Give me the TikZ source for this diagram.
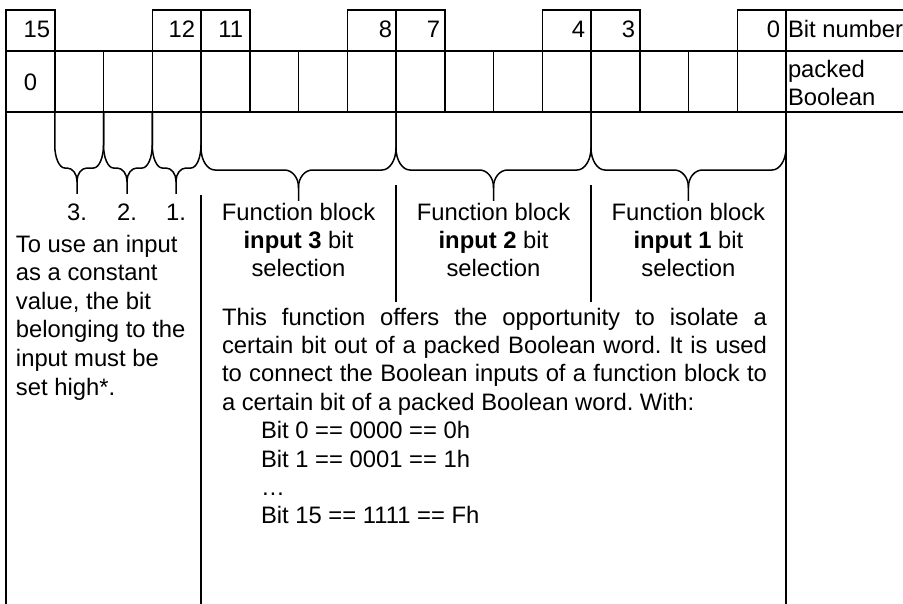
\documentclass[tikz,border=0pt]{standalone}
\usepackage{fontspec}
\setmainfont{Liberation Sans}
\frenchspacing
\newcommand{\fsz}{\fontsize{23.8}{28.4}\selectfont}
% brace: #1 left x, #2 tip x, #3 right x, #4 end of vertical, #5 horizontal y, #6 corner radius, #7 tip curve end y, #8 tip bottom y
\newcommand{\brc}[8]{%
  \draw[ln] (#1,112) -- (#1,#4) .. controls (#1,{#4+0.55*(#5-#4)}) and ({#1+0.45*#6},#5) .. ({#1+#6},#5)
     -- ({#2-#6},#5) .. controls ({#2-0.45*#6},#5) and (#2,{#7-0.55*(#7-#5)}) .. (#2,#7) -- (#2,#8);
  \draw[ln] (#3,112) -- (#3,#4) .. controls (#3,{#4+0.55*(#5-#4)}) and ({#3-0.45*#6},#5) .. ({#3-#6},#5)
     -- ({#2+#6},#5) .. controls ({#2+0.45*#6},#5) and (#2,{#7-0.55*(#7-#5)}) .. (#2,#7);
}
\begin{document}
\begin{tikzpicture}[x=1pt,y=-1pt,
  ln/.style={line width=1.5pt,line cap=rect,black},
  lbl/.style={inner sep=0pt,outer sep=0pt,font=\fsz,text=black}]
\fill[white] (0,0) rectangle (903,603);
\useasboundingbox (0,0) rectangle (903,603);
% header top segments
\draw[ln] (6,10) -- (54.75,10);
\draw[ln] (152.25,10) -- (249.75,10);
\draw[ln] (347.25,10) -- (444.75,10);
\draw[ln] (542.25,10) -- (639.75,10);
\draw[ln] (737.25,10) -- (903,10);
% horizontal rules
\draw[ln] (6,51) -- (903,51);
\draw[ln] (6,112) -- (903,112);
% header verticals
\foreach \i in {1,3,4,5,7,8,9,11,12,13,15}
  \draw[ln] ({6+48.75*\i},10) -- ({6+48.75*\i},51);
% data row verticals
\foreach \i in {1,...,15}
  \draw[ln] ({6+48.75*\i},51) -- ({6+48.75*\i},112);
% full-height outer lines
\draw[ln] (6,10) -- (6,603);
\draw[ln] (786,10) -- (786,603);
% lower separators
\draw[ln] (201,196) -- (201,603);
\draw[ln] (396,186) -- (396,301);
\draw[ln] (591,186) -- (591,301);
% braces
\brc{54.75}{77}{103.5}{145}{168}{10}{181}{193}
\brc{103.5}{127}{152.25}{145}{168}{10}{181}{193}
\brc{152.25}{176}{201}{145}{168}{10}{181}{193}
\brc{201}{298.5}{396}{148}{170}{14}{187}{200}
\brc{396}{493.5}{591}{148}{170}{14}{187}{200}
\brc{591}{688.4}{786}{148}{170}{14}{187}{200}
% header labels
\node[lbl,anchor=base east] (h15) at (50,37) {15};
\node[lbl,anchor=base east] (h12) at (195,37) {12};
\node[lbl,anchor=base east] (h11) at (243,37) {11};
\node[lbl,anchor=base east] (h8) at (392,37) {8};
\node[lbl,anchor=base east] (h7) at (440,37) {7};
\node[lbl,anchor=base east] (h4) at (585,37) {4};
\node[lbl,anchor=base east] (h3) at (635,37) {3};
\node[lbl,anchor=base east] (h0) at (780,37) {0};
\node[lbl,anchor=base west] (hbit) at (788,37) {Bit number};
\node[lbl,anchor=base] (v0) at (30.4,90) {0};
\node[lbl,anchor=base west] (pk1) at (788,77) {packed};
\node[lbl,anchor=base west] (pk2) at (788,105) {Boolean};
% input numbers
\node[lbl,anchor=base] (n3) at (77,220) {3.};
\node[lbl,anchor=base] (n2) at (127,220) {2.};
\node[lbl,anchor=base] (n1) at (176,220) {1.};
% constant note
\node[lbl,anchor=base west] (c1) at (16,252) {To use an input};
\node[lbl,anchor=base west] (c2) at (16,280.6) {as a constant};
\node[lbl,anchor=base west] (c3) at (16,309.2) {value, the bit};
\node[lbl,anchor=base west] (c4) at (16,337.8) {belonging to the};
\node[lbl,anchor=base west] (c5) at (16,366.4) {input must be};
\node[lbl,anchor=base west] (c6) at (16,395) {set high*.};
% function block labels
\node[lbl,anchor=base] (f3a) at (298.5,220) {Function block};
\node[lbl,anchor=base] (f3b) at (298.5,248.4) {\textbf{input 3} bit};
\node[lbl,anchor=base] (f3c) at (298.5,276.8) {selection};
\node[lbl,anchor=base] (f2a) at (493.5,220) {Function block};
\node[lbl,anchor=base] (f2b) at (493.5,248.4) {\textbf{input 2} bit};
\node[lbl,anchor=base] (f2c) at (493.5,276.8) {selection};
\node[lbl,anchor=base] (f1a) at (688.4,220) {Function block};
\node[lbl,anchor=base] (f1b) at (688.4,248.4) {\textbf{input 1} bit};
\node[lbl,anchor=base] (f1c) at (688.4,276.8) {selection};
% description paragraph
\node[lbl,anchor=base west] (p1) at (222,325) {\makebox[545pt][s]{This function offers the opportunity to isolate a}};
\node[lbl,anchor=base west] (p2) at (222,353.4) {\makebox[545pt][s]{certain bit out of a packed Boolean word. It is used}};
\node[lbl,anchor=base west] (p3) at (222,381.8) {\makebox[545pt][s]{to connect the Boolean inputs of a function block to}};
\node[lbl,anchor=base west] (p4) at (222,410.2) {a certain bit of a packed Boolean word. With:};
\node[lbl,anchor=base west] (p5) at (261,438.6) {Bit 0 == 0000 == 0h};
\node[lbl,anchor=base west] (p6) at (261,467) {Bit 1 == 0001 == 1h};
\node[lbl,anchor=base west] (p7) at (261,495.4) {…};
\node[lbl,anchor=base west] (p8) at (261,523.8) {Bit 15 == 1111 == Fh};
\end{tikzpicture}
\end{document}
